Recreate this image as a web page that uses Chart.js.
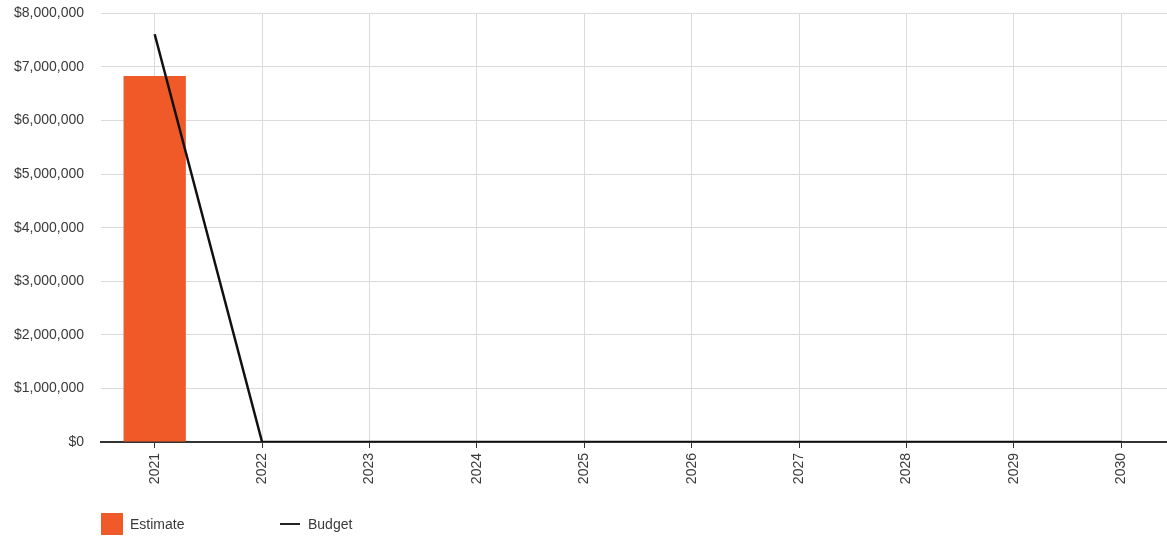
<!DOCTYPE html>
<html>
<head>
<meta charset="utf-8">
<script src="https://cdn.jsdelivr.net/npm/chart.js@4.4.1/dist/chart.umd.min.js"></script>
<style>
  html, body { margin: 0; padding: 0; background: #fff; overflow: hidden; }
  #wrap { position: relative; width: 1176px; height: 537px; overflow: hidden; }
  #chart { position: absolute; left: 0; top: -12px; }
  .legend { position: absolute; top: 513px; font: 14px "Liberation Sans", Arial, sans-serif; color: #3a3a3a; }
  .legend .item { position: absolute; white-space: nowrap; height: 22px; line-height: 22px; }
  .swatch { position: absolute; top: 0; width: 22px; height: 22px; background: #f05a28; }
  .dash { position: absolute; top: 10px; width: 20px; height: 2px; background: #222; }
</style>
</head>
<body>
<div id="wrap">
  <canvas id="chart" width="1176" height="549"></canvas>
  <div class="legend">
    <div class="item" style="left:101px"><span class="swatch"></span><span style="margin-left:29px">Estimate</span></div>
    <div class="item" style="left:280px"><span class="dash"></span><span style="margin-left:28px">Budget</span></div>
  </div>
</div>
<script>
// chart data
const years = ['2021', '2022', '2023', '2024', '2025', '2026', '2027', '2028', '2029', '2030'];
const estimate = [6830000, 0, 0, 0, 0, 0, 0, 0, 0, 0];
const budget = [7610000, 0, 0, 0, 0, 0, 0, 0, 0, 0];

const textColor = '#3a3a3a';
const tickFont = { family: '"Liberation Sans", Arial, sans-serif', size: 14 };

function money(v) {
  return '$' + Number(v).toLocaleString('en-US');
}

const ctx = document.getElementById('chart');
const budgetChart = new Chart(ctx, {
  type: 'bar',
  data: {
    labels: years,
    datasets: [
      {
        type: 'line',
        label: 'Budget',
        data: budget,
        borderColor: '#111',
        borderWidth: 2.5,
        pointRadius: 0,
        fill: false,
        tension: 0,
        order: 0
      },
      {
        label: 'Estimate',
        data: estimate,
        backgroundColor: '#f05a28',
        barPercentage: 0.58,
        categoryPercentage: 1,
        order: 1
      }
    ]
  },
  options: {
    responsive: false,
    animation: false,
    layout: { padding: { top: 1, right: 1, left: 0, bottom: 0 } },
    plugins: {
      legend: { display: false },
      tooltip: { enabled: false }
    },
    scales: {
      x: {
        z: 1,
        grid: {
          offset: false,
          color: 'rgba(0,0,0,0.14)',
          tickColor: '#333',
          tickLength: 6
        },
        border: { color: '#333', width: 2 },
        ticks: {
          color: textColor,
          font: tickFont,
          minRotation: 90,
          maxRotation: 90,
          padding: 5
        },
        afterFit: s => { s.height = 95; }
      },
      y: {
        min: 0,
        max: 8000000,
        grid: { color: '#dadada', drawTicks: false },
        border: { display: false },
        ticks: {
          stepSize: 1000000,
          color: textColor,
          font: tickFont,
          padding: 17,
          callback: v => money(v)
        },
        afterFit: s => { s.width = 101; }
      }
    }
  }
});
</script>
</body>
</html>
